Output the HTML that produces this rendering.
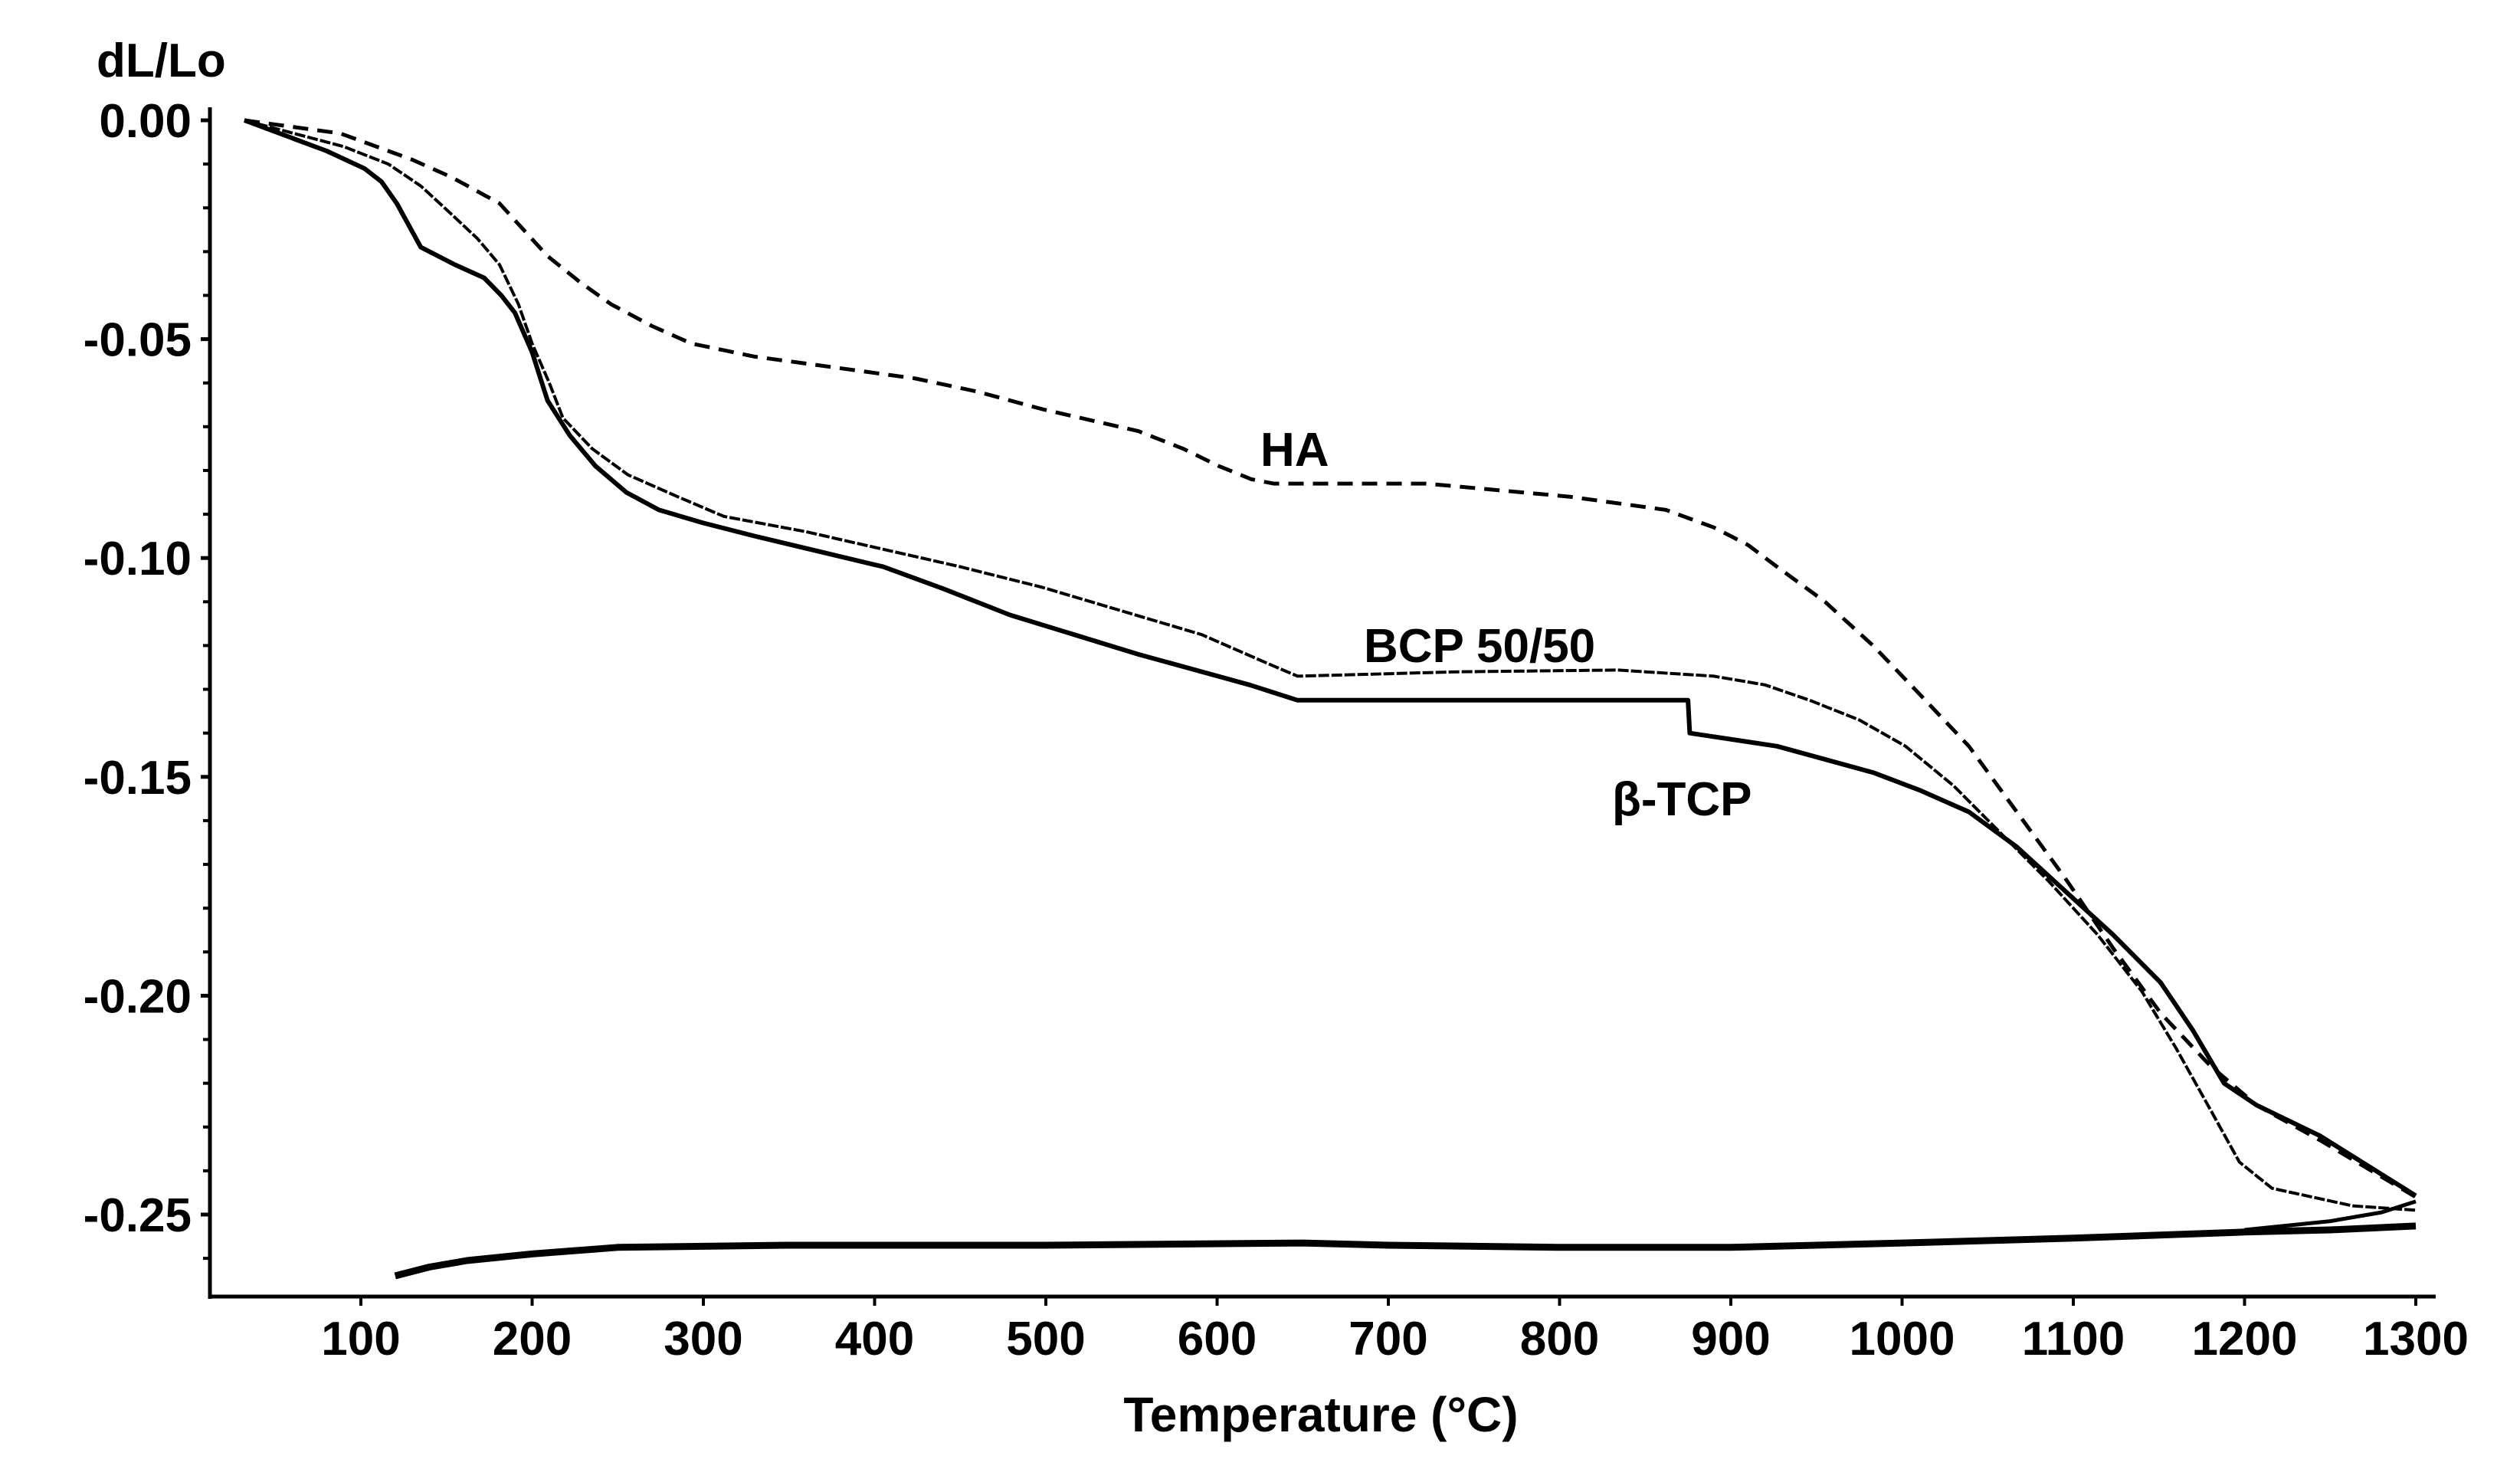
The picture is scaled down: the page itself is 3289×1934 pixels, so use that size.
<!DOCTYPE html>
<html><head><meta charset="utf-8"><style>
html,body{margin:0;padding:0;background:#fff;}
svg{display:block;}
text{font-family:"Liberation Sans Narrow","Liberation Sans",sans-serif;font-weight:bold;fill:#000;}
</style></head><body>
<svg id="chart" width="3289" height="1934" viewBox="0 0 3289 1934" xmlns="http://www.w3.org/2000/svg">
<g id="axes"></g>
<g id="series"></g>
<text x="126" y="100" font-size="62">dL/Lo</text>
<text x="1724" y="1868" font-size="64" text-anchor="middle">Temperature (°C)</text>
<text x="1645" y="608" font-size="62">HA</text>
<text x="1780" y="864" font-size="62">BCP 50/50</text>
<text x="2104" y="1064" font-size="62">β-TCP</text>
</svg>
<script>
const xTicks = [100,200,300,400,500,600,700,800,900,1000,1100,1200,1300];
const yTicks = [0,-0.05,-0.10,-0.15,-0.20,-0.25];
const yTickLabels = ["0.00","-0.05","-0.10","-0.15","-0.20","-0.25"];
const haT = [32,88,130,153,181,195,209,228,246,270,293,330,368,424,460,498,554,580,601,620,633,722,806,862,890,910,927,955,983,1010,1039,1067,1095,1123,1151,1180,1207,1244,1300];
const haV = [0,-0.003,-0.009,-0.013,-0.019,-0.025,-0.031,-0.037,-0.042,-0.047,-0.051,-0.054,-0.056,-0.059,-0.062,-0.066,-0.071,-0.075,-0.079,-0.082,-0.083,-0.083,-0.086,-0.089,-0.093,-0.097,-0.102,-0.110,-0.12,-0.131,-0.143,-0.158,-0.173,-0.189,-0.204,-0.216,-0.225,-0.233,-0.246];
const tcpT = [32,80,102,112,121,135,155,172,182,190,200,209,222,237,255,274,300,330,405,440,479,554,619,647,875,876,927,983,1010,1039,1067,1095,1123,1151,1170,1188,1207,1244,1300];
const tcpV = [0,-0.007,-0.011,-0.014,-0.019,-0.029,-0.033,-0.036,-0.040,-0.044,-0.053,-0.064,-0.072,-0.079,-0.085,-0.089,-0.092,-0.095,-0.102,-0.107,-0.113,-0.122,-0.129,-0.1325,-0.1325,-0.140,-0.143,-0.149,-0.153,-0.158,-0.166,-0.176,-0.186,-0.197,-0.208,-0.220,-0.225,-0.232,-0.2457];
const bcpT = [32,90,116,135,153,168,181,192,200,210,218,235,256,285,312,360,405,450,498,591,629,647,741,834,890,920,946,975,1002,1030,1058,1086,1114,1140,1160,1180,1197,1216,1263,1300];
const bcpV = [0,-0.006,-0.010,-0.015,-0.0215,-0.027,-0.033,-0.042,-0.051,-0.060,-0.068,-0.075,-0.081,-0.086,-0.0905,-0.094,-0.098,-0.102,-0.1067,-0.1175,-0.124,-0.127,-0.126,-0.1256,-0.127,-0.129,-0.1325,-0.137,-0.143,-0.152,-0.163,-0.174,-0.186,-0.199,-0.212,-0.226,-0.238,-0.244,-0.248,-0.249];
const coolT = [1300,1250,1200,1100,1000,900,800,700,650,500,350,250,200,162,140,120];
const coolV = [-0.2526,-0.2535,-0.254,-0.2554,-0.2565,-0.2575,-0.2575,-0.257,-0.2565,-0.257,-0.257,-0.2575,-0.259,-0.2605,-0.262,-0.264];
const cool2T = [1300,1280,1250,1200];
const cool2V = [-0.247,-0.2495,-0.2515,-0.2535];

const X0=274, X1=3179, Y0=140, Y1=1692;
function sx(t){return 471+(t-100)*2.235;}
function sy(v){return 157+(-v)*5712;}
const NS="http://www.w3.org/2000/svg";
const axes=document.getElementById('axes'), ser=document.getElementById('series');
function mk(tag,attrs,parent){const e=document.createElementNS(NS,tag);for(const k in attrs)e.setAttribute(k,attrs[k]);parent.appendChild(e);return e;}

const yAxis=mk('line',{x1:X0,y1:Y0,x2:X0,y2:Y1+3,stroke:'#000','stroke-width':5},axes);


const xAxis=mk('line',{x1:X0-2,y1:Y1,x2:X1,y2:Y1,stroke:'#000','stroke-width':5},axes);



for(let i=0;i<=26;i++){
  const v=-i*0.01;
  const major=(i%5===0);
  const t=mk('line',{x1:X0-(major?12:9),y1:sy(v),x2:X0,y2:sy(v),stroke:'#000','stroke-width':major?5:4},axes);
  
  
}
yTicks.forEach((v,i)=>{
  const l=mk('text',{x:250,y:sy(v)+22,'font-size':62,'text-anchor':'end'},axes);
  l.textContent=yTickLabels[i];
  
  
});
xTicks.forEach(t=>{
  const tk=mk('line',{x1:sx(t),y1:Y1,x2:sx(t),y2:Y1+12,stroke:'#000','stroke-width':4},axes);
  
  
  const l=mk('text',{x:sx(t),y:1768,'font-size':62,'text-anchor':'middle'},axes);
  l.textContent=String(t);
  
  
});

function pts(T,V){return T.map((t,i)=>sx(t).toFixed(1)+','+sy(V[i]).toFixed(1)).join(' ');}
const cool=mk('polyline',{points:pts(coolT,coolV),fill:'none',stroke:'#000','stroke-width':9,'stroke-linejoin':'round'},ser);


const cool2=mk('polyline',{points:pts(cool2T,cool2V),fill:'none',stroke:'#000','stroke-width':5,'stroke-linejoin':'round'},ser);


const ha=mk('polyline',{points:pts(haT,haV),fill:'none',stroke:'#000','stroke-width':5,'stroke-dasharray':'20 12','stroke-linejoin':'round'},ser);


const bcp=mk('polyline',{points:pts(bcpT,bcpV),fill:'none',stroke:'#000','stroke-width':4,'stroke-dasharray':'14 3','stroke-linejoin':'round'},ser);


const tcp=mk('polyline',{points:pts(tcpT,tcpV),fill:'none',stroke:'#000','stroke-width':6,'stroke-linejoin':'round'},ser);


</script>
</body></html>
